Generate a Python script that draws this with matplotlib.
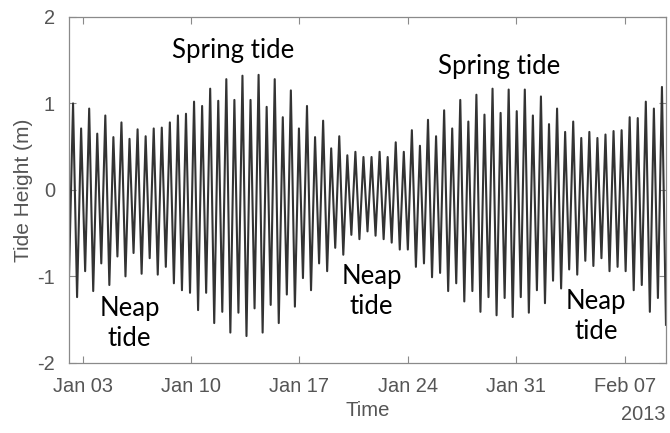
import numpy as np
import pandas as pd
import matplotlib
matplotlib.use('Agg')
import matplotlib.pyplot as plt
import matplotlib.dates as mdates

plt.rcParams['axes.unicode_minus'] = False

# successive tide extremes (m): low, high, low, high, ...
start = '2013-01-02 03:00'
step = '375min'   # ~half a semidiurnal tidal cycle between extremes

low_water = [-1.00, -1.24, -0.94, -1.17, -0.85, -1.10, -0.77, -1.00, -0.73, -0.97,
             -0.79, -0.98, -0.89, -1.08, -1.16, -1.19, -1.39, -1.19, -1.54, -1.41,
             -1.65, -1.42, -1.69, -1.37, -1.65, -1.33, -1.54, -1.21, -1.35, -1.02,
             -1.16, -0.85, -0.94, -0.67, -0.75, -0.52, -0.57, -0.48, -0.53, -0.57,
             -0.61, -0.69, -0.69, -0.89, -0.85, -1.01, -0.96, -1.17, -1.08, -1.29,
             -1.17, -1.41, -1.24, -1.45, -1.25, -1.47, -1.24, -1.42, -1.16, -1.31,
             -1.05, -1.14, -0.92, -0.98, -0.82, -0.88, -0.79, -0.94, -0.89, -0.94,
             -1.16, -1.10, -1.41, -1.25, -1.56]
high_water = [1.00, 0.71, 0.94, 0.65, 0.86, 0.61, 0.78, 0.59, 0.70, 0.62,
              0.71, 0.72, 0.78, 0.86, 0.88, 1.02, 0.97, 1.17, 1.03, 1.28,
              1.04, 1.32, 1.04, 1.33, 0.96, 1.28, 0.84, 1.15, 0.71, 0.97,
              0.61, 0.80, 0.48, 0.62, 0.40, 0.44, 0.38, 0.38, 0.44, 0.38,
              0.55, 0.44, 0.69, 0.51, 0.81, 0.62, 0.92, 0.71, 1.04, 0.79,
              1.10, 0.87, 1.17, 0.89, 1.16, 0.91, 1.16, 0.86, 1.08, 0.76,
              0.94, 0.67, 0.79, 0.60, 0.67, 0.60, 0.64, 0.68, 0.69, 0.84,
              0.83, 1.02, 0.94, 1.19]

xtick_dates = ['2013-01-03', '2013-01-10', '2013-01-17', '2013-01-24',
               '2013-01-31', '2013-02-07']

labels = ['Spring tide', 'Spring tide', 'Neap\ntide', 'Neap\ntide', 'Neap\ntide']
label_time = ['2013-01-12 17:00', '2013-01-29 22:00', '2013-01-06 01:00',
              '2013-01-21 16:00', '2013-02-05 04:00']
label_height = [1.61, 1.43, -1.55, -1.18, -1.46]

height = np.empty(len(low_water) + len(high_water))
height[0::2] = low_water
height[1::2] = high_water
t = pd.date_range(start, periods=len(height), freq=step)

fig = plt.figure(figsize=(6.7, 4.33), dpi=100)
ax = fig.add_axes([0.103, 0.162, 0.891, 0.799])

ax.plot(t, height, color='#333333', linewidth=1.5)

ax.set_xlim(t[0], t[-1])
ax.set_ylim(-2, 2)
ax.set_yticks([-2, -1, 0, 1, 2])
ax.set_xticks(pd.to_datetime(xtick_dates))
ax.xaxis.set_major_formatter(mdates.DateFormatter('%b %d'))

tick_font = 'Liberation Sans'
ax.tick_params(direction='in', top=True, right=True, length=5, width=0.8,
               color='#8a8a8a', labelcolor='#555555', labelsize=14.4, pad=10)
for lab in ax.get_xticklabels() + ax.get_yticklabels():
    lab.set_family(tick_font)
for s in ax.spines.values():
    s.set_color('#8a8a8a')
    s.set_linewidth(0.9)

ax.set_xlabel('Time', family=tick_font, fontsize=14.6, color='#555555', labelpad=4)
ax.set_ylabel('Tide Height (m)', family=tick_font, fontsize=15, color='#555555', labelpad=3)
fig.text(666/670, 1 - 415/433, '2013', family=tick_font, fontsize=14.4,
         color='#555555', ha='right', va='center')

for txt, tm, h in zip(labels, label_time, label_height):
    ax.text(mdates.date2num(pd.Timestamp(tm)), h, txt, family='Lato', fontsize=18.5,
            color='black', ha='center', va='center', linespacing=1.25)

fig.savefig('out.png', dpi=100)
